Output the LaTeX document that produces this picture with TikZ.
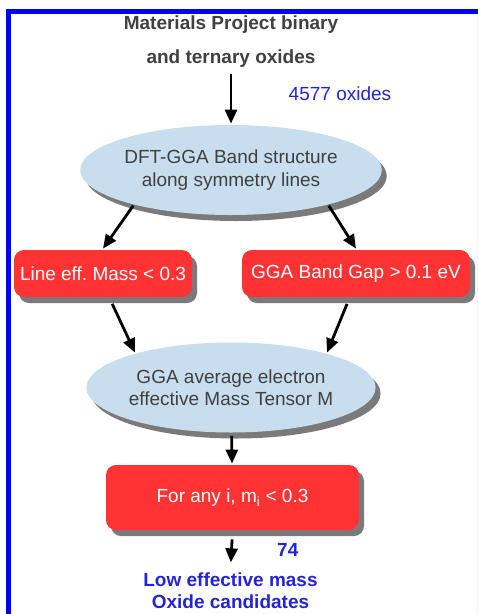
\documentclass[tikz,border=0pt]{standalone}
\usepackage{fontspec}
\setmainfont{Liberation Sans}
\usetikzlibrary{arrows.meta,shapes.geometric,shadows}

\definecolor{bandblue}{RGB}{200,222,238}
\definecolor{cutred}{RGB}{255,51,51}
\definecolor{countblue}{RGB}{35,35,215}
\definecolor{inkgray}{RGB}{64,64,64}
\definecolor{shadegray}{RGB}{122,122,122}

\tikzset{
  solid shade/.style={drop shadow={shadow xshift=5pt,shadow yshift=-6pt,fill=shadegray,opacity=1}},
  calcstep/.style={ellipse,fill=bandblue,text=inkgray,minimum width=262pt,minimum height=90pt,
                   inner sep=0pt,align=center,font=\fontsize{19}{22.5}\selectfont,solid shade},
  cutbox/.style={rectangle,rounded corners=10pt,fill=cutred,text=white,minimum height=47pt,
                 inner sep=0pt,font=\fontsize{19}{22}\selectfont,solid shade},
  count/.style={text=countblue,font=\fontsize{19}{22}\selectfont,anchor=west},
}

\begin{document}
\frenchspacing
\begin{tikzpicture}[x=1pt,y=1pt,line width=2.8pt,>={Triangle[length=14pt,width=12pt]}]
    \useasboundingbox (0,0) rectangle (478,-614);
    \draw[blue,line width=5pt] (478,-11.5) -| (8.5,-614);
    \draw[black!6,line width=1pt] (477.5,-14) -- (477.5,-614);

    \node[calcstep]  (band)   at (231,-170)                                   {DFT-GGA Band structure\\along symmetry lines};
    \node[text=inkgray,align=center,font=\bfseries\fontsize{19}{34}\selectfont,inner sep=2pt]
                     (mp)     [above of=band,node distance=128pt]              {Materials Project binary\\and ternary oxides};
    \node[cutbox,minimum width=178pt]  (line) [below of=band,node distance=103.5pt,xshift=-128pt] {Line eff. Mass < 0.3};
    \node[cutbox,minimum width=228pt]  (gap)  [below of=band,node distance=103.5pt,xshift=125pt]  {GGA Band Gap > 0.1 eV};
    \node[calcstep]  (tensor) [below of=band,node distance=217.5pt]           {GGA average electron\\effective Mass Tensor M};
    \node[cutbox,minimum width=253pt,minimum height=65pt]
                     (anyi)   [below of=tensor,node distance=110pt,xshift=1.5pt] {For any i, m\textsubscript{i} < 0.3};
    \node[text=countblue,align=center,font=\bfseries\fontsize{19}{21.5}\selectfont,inner sep=2pt]
                     (cand)   [below of=anyi,node distance=93pt,xshift=-2pt] {Low effective mass\\Oxide candidates};

    \path[->]   (mp)         edge[shorten <=3pt]  node[count,xshift=53pt,yshift=4pt] {4577 oxides} (band)
                (band.200)   edge                 (line.north)
                (band.-20)   edge                 (gap.north)
                (line.-75)   edge[shorten <=6pt]  (tensor.160)
                (gap.-105)   edge[shorten <=6pt]  (tensor.20)
                (tensor)     edge[shorten <=2pt]  (anyi)
                (anyi.south) edge[shorten <=8pt,shorten >=7pt] node[count,font=\bfseries\fontsize{19}{22}\selectfont,xshift=41pt,yshift=0pt] {74} (cand.north)
                ;
\end{tikzpicture}
\end{document}
